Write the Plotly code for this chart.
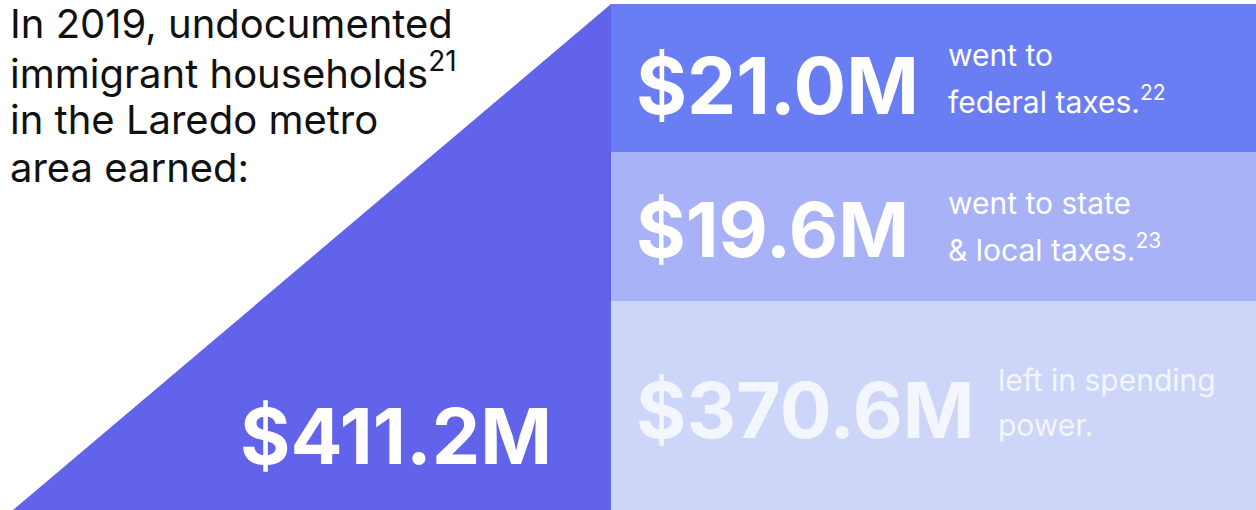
import plotly.graph_objects as go

# ---- data ----
total_label = "Earned"
total_value_m = 411.2
component_names = ["Federal taxes", "State & local taxes", "Spending power"]
component_values_m = [21.0, 19.6, 370.6]
component_desc = [
    ["went to", "federal taxes.<sup>22</sup>"],
    ["went to state", "&amp; local taxes.<sup>23</sup>"],
    ["left in spending", "power."],
]
header_lines = [
    "In 2019, undocumented",
    "immigrant households<sup>21</sup>",
    "in the Laredo metro",
    "area earned:",
]

# ---- style ----
W, H = 1256, 510
tri_color = "#6163EB"
band_colors = ["#6A7EF3", "#A8B2F7", "#CDD5F9"]
band_edges = [4, 152, 301, 510]
x_split = 611
FONT = "Inter"

fig = go.Figure()

# triangle (total)
fig.add_trace(go.Scatter(
    x=[13, x_split, x_split, 13], y=[H, band_edges[0], H, H],
    fill="toself", fillcolor=tri_color, mode="lines", line=dict(width=0),
    hoverinfo="skip", showlegend=False))

# bands
for i, c in enumerate(band_colors):
    y0, y1 = band_edges[i], band_edges[i + 1]
    fig.add_trace(go.Scatter(
        x=[x_split, W, W, x_split, x_split], y=[y0, y0, y1, y1, y0],
        fill="toself", fillcolor=c, mode="lines", line=dict(width=0),
        hoverinfo="skip", showlegend=False))

ann = []
# header
for i, t in enumerate(header_lines):
    ann.append(dict(x=8, y=23 + i * 48, text=t, showarrow=False, xanchor="left",
                    yanchor="middle", font=dict(family=FONT, size=40, color="#111111")))

# total
ann.append(dict(x=238, y=436, text=f"${total_value_m:.1f}M", showarrow=False,
                xanchor="left", yanchor="middle",
                font=dict(family=FONT, size=77, color="white", weight=700)))

num_y = [85, 229, 410]
num_colors = ["#FFFFFF", "#FFFFFF", "#F4F6FE"]
num_sizes = [78, 76, 77]
desc_x = [946, 946, 996]
desc_y0 = [55, 203, 380]
for i, v in enumerate(component_values_m):
    ann.append(dict(x=634, y=num_y[i], text=f"${v:.1f}M", showarrow=False,
                    xanchor="left", yanchor="middle",
                    font=dict(family=FONT, size=num_sizes[i], color=num_colors[i], weight=700)))
    for j, line in enumerate(component_desc[i]):
        ann.append(dict(x=desc_x[i], y=desc_y0[i] + j * 45, text=line, showarrow=False,
                        xanchor="left", yanchor="middle",
                        font=dict(family=FONT, size=30, color=num_colors[i])))

fig.update_layout(
    width=W, height=H, margin=dict(l=0, r=0, t=0, b=0),
    paper_bgcolor="white", plot_bgcolor="white",
    xaxis=dict(range=[0, W], visible=False, fixedrange=True),
    yaxis=dict(range=[H, 0], visible=False, fixedrange=True),
    annotations=ann,
)
fig.write_html("out.html", config={"displayModeBar": False},
               post_script="document.body.style.margin='0';")
